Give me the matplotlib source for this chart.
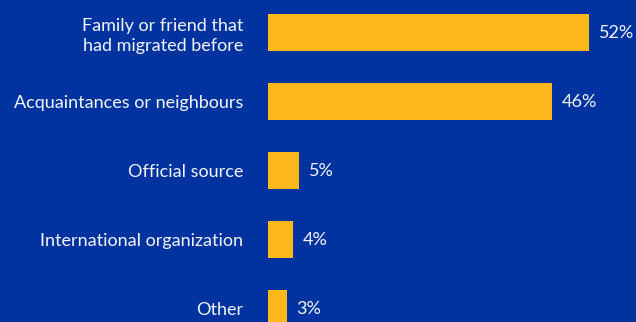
import matplotlib.pyplot as plt

categories = ['Family or friend that\nhad migrated before', 'Acquaintances or neighbours',
              'Official source', 'International organization', 'Other']
shares = [52, 46, 5, 4, 3]

bg = '#0033a0'
bar_color = '#ffb81c'

plt.rcParams['font.family'] = ['Lato', 'DejaVu Sans']

fig = plt.figure(figsize=(6.36, 3.22), dpi=100, facecolor=bg)
ax = fig.add_axes([268 / 636, 0, 368 / 636, 1])
ax.set_facecolor(bg)

pos = list(range(len(categories)))
ax.barh(pos, shares, height=0.535, color=bar_color)

for p, v in zip(pos, shares):
    ax.annotate(f'{v}%', (v, p), xytext=(10, -1), textcoords='offset pixels',
                va='center', ha='left', color='#f4f6fb', fontsize=13)

ax.set_xlim(0, 59.6)
ax.set_ylim(4.20, -0.47)
ax.set_yticks(pos)
ax.set_yticklabels(categories, fontsize=13, color='#f4f6fb', ha='right',
                   multialignment='right', linespacing=1.3)
ax.tick_params(axis='y', length=0, pad=18)
ax.set_xticks([])
for s in ax.spines.values():
    s.set_visible(False)

fig.savefig('out.png', dpi=100, facecolor=bg)
